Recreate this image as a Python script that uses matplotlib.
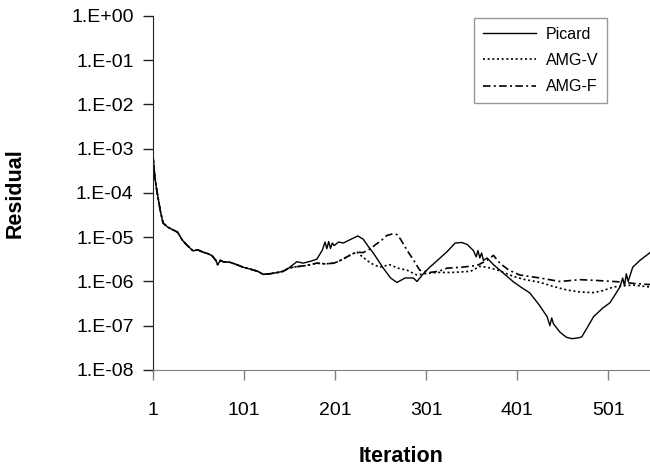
import matplotlib.pyplot as plt
import matplotlib.ticker as mticker
import numpy as np

plt.rcParams['font.family'] = ['Liberation Sans', 'DejaVu Sans']

# early part, where all three runs lie on top of each other
early_iter = [1, 2, 3, 5, 7, 9, 12, 17, 22, 28, 33, 38, 45, 50, 56, 62, 66,
              70, 72, 75, 78, 86, 93, 100, 108, 116, 122, 130, 138, 144, 150]
early_res = [7e-4, 4e-4, 2.3e-4, 1.2e-4, 6.9e-5, 4e-5, 2.1e-5, 1.7e-5, 1.5e-5,
             1.3e-5, 8.7e-6, 6.7e-6, 4.9e-6, 5.2e-6, 4.6e-6, 4.2e-6, 3.8e-6,
             3.0e-6, 2.4e-6, 3.0e-6, 2.8e-6, 2.7e-6, 2.4e-6, 2.1e-6, 1.9e-6,
             1.7e-6, 1.45e-6, 1.5e-6, 1.6e-6, 1.7e-6, 2.0e-6]

picard_iter = [159, 166, 175, 181, 187, 190, 192, 194, 196, 198, 200, 205,
               210, 217, 226, 232, 238, 243, 254, 262, 269, 278, 287, 291,
               298, 305, 315, 324, 333, 340, 346, 353, 356, 358, 360, 362,
               364, 368, 375, 385, 397, 405, 415, 425, 434, 437, 439, 441,
               448, 455, 461, 468, 472, 478, 485, 495, 503, 514, 517, 519,
               521, 523, 528, 536, 547]
picard_res = [2.8e-6, 2.6e-6, 2.9e-6, 3.2e-6, 5.1e-6, 7.8e-6, 5.5e-6, 8e-6,
              5.6e-6, 7.4e-6, 6.5e-6, 7.8e-6, 7.4e-6, 8.7e-6, 1.07e-5, 9e-6,
              6e-6, 4.4e-6, 2e-6, 1.2e-6, 9.5e-7, 1.2e-6, 1.2e-6, 1e-6,
              1.5e-6, 2.1e-6, 3.2e-6, 4.7e-6, 7.4e-6, 7.6e-6, 6.9e-6, 5e-6,
              3.6e-6, 5e-6, 3.4e-6, 4.4e-6, 3e-6, 3.4e-6, 2.4e-6, 1.6e-6,
              9.8e-7, 7.5e-7, 5.5e-7, 3e-7, 1.6e-7, 1e-7, 1.5e-7, 1.1e-7,
              7.2e-8, 5.5e-8, 5.1e-8, 5.3e-8, 5.6e-8, 9e-8, 1.6e-7, 2.5e-7,
              3.3e-7, 7.5e-7, 1.2e-6, 8e-7, 1.5e-6, 1e-6, 2.1e-6, 3e-6,
              4.5e-6]

# the two AMG runs share their path up to about iteration 225
amg_iter = [155, 162, 170, 181, 190, 200, 207, 214, 220, 225]
amg_res = [2.1e-6, 2.2e-6, 2.3e-6, 2.6e-6, 2.5e-6, 2.6e-6, 3e-6, 3.6e-6,
           4.2e-6, 4.6e-6]

amgv_iter = [232, 240, 250, 261, 270, 280, 291, 300, 313, 330, 350, 360,
             368, 380, 397, 410, 426, 440, 456, 470, 485, 495, 507, 518,
             528, 547]
amgv_res = [3.5e-6, 2.6e-6, 2.1e-6, 2.4e-6, 2e-6, 1.8e-6, 1.4e-6, 1.5e-6,
            1.6e-6, 1.6e-6, 1.7e-6, 2.2e-6, 2.1e-6, 1.8e-6, 1.3e-6, 1.1e-6,
            9.6e-7, 7.8e-7, 6.4e-7, 5.8e-7, 5.6e-7, 6.2e-7, 7.5e-7, 8e-7,
            8.3e-7, 7.5e-7]

amgf_iter = [232, 240, 245, 252, 258, 265, 269, 273, 280, 287, 294, 305,
             315, 324, 340, 357, 368, 375, 382, 392, 404, 426, 448, 470,
             490, 514, 530, 547]
amgf_res = [4.5e-6, 5.5e-6, 6.7e-6, 8.5e-6, 1.1e-5, 1.2e-5, 1.15e-5, 9e-6,
            5.1e-6, 3.1e-6, 1.8e-6, 1.6e-6, 1.7e-6, 2e-6, 2.1e-6, 2.3e-6,
            3e-6, 3.9e-6, 2.6e-6, 1.8e-6, 1.4e-6, 1.2e-6, 1e-6, 1.1e-6,
            1.05e-6, 9.8e-7, 9e-7, 8.5e-7]

x_ticks = [1, 101, 201, 301, 401, 501]
y_ticks = [1e0, 1e-1, 1e-2, 1e-3, 1e-4, 1e-5, 1e-6, 1e-7, 1e-8]

fig = plt.figure(figsize=(6.5, 4.7), dpi=100)
ax = fig.add_axes([0.2354, 0.2128, 0.7646, 0.7532])

ax.plot(early_iter + picard_iter, early_res + picard_res, color='black',
        lw=1.0, ls='-', label='Picard')
ax.plot(early_iter + amg_iter + amgv_iter, early_res + amg_res + amgv_res,
        color='black', lw=1.2, ls=(0, (1.2, 1.6)), label='AMG-V')
ax.plot(early_iter + amg_iter + amgf_iter, early_res + amg_res + amgf_res,
        color='black', lw=1.2, ls=(0, (4.5, 2, 1.2, 2)), label='AMG-F')

ax.set_yscale('log')
ax.set_ylim(1e-8, 1e0)
ax.set_xlim(1, 547)
ax.set_xticks(x_ticks)
ax.set_xticklabels([str(t) for t in x_ticks])
ax.set_yticks(y_ticks)
ax.yaxis.set_major_formatter(
    mticker.FuncFormatter(lambda v, p: '1.E%+03d' % int(round(np.log10(v)))))
ax.yaxis.set_minor_locator(mticker.NullLocator())

ax.spines['top'].set_visible(False)
ax.spines['right'].set_visible(False)
ax.spines['left'].set_color('#222222')
ax.spines['bottom'].set_color('#808080')
ax.tick_params(axis='y', direction='out', length=7, width=1, colors='#222222',
               labelcolor='black', labelsize=14, pad=7)
ax.tick_params(axis='x', direction='out', length=7, width=1, colors='#808080',
               labelcolor='black', labelsize=14, pad=16)

ax.set_xlabel('Iteration', fontsize=15.5, fontweight='bold')
ax.set_ylabel('Residual', fontsize=15.5, fontweight='bold')
ax.yaxis.set_label_coords(-0.2555, 0.5)
ax.xaxis.set_label_coords(0.5, -0.215)

leg = ax.legend(loc='upper right', bbox_to_anchor=(0.913, 0.994),
                fontsize=11.5, frameon=True, fancybox=False,
                handlelength=3.3, handletextpad=0.6, borderpad=0.55,
                labelspacing=0.7, borderaxespad=0)
leg.get_frame().set_edgecolor('#808080')
leg.get_frame().set_linewidth(1.0)

fig.savefig('out.png', dpi=100)
